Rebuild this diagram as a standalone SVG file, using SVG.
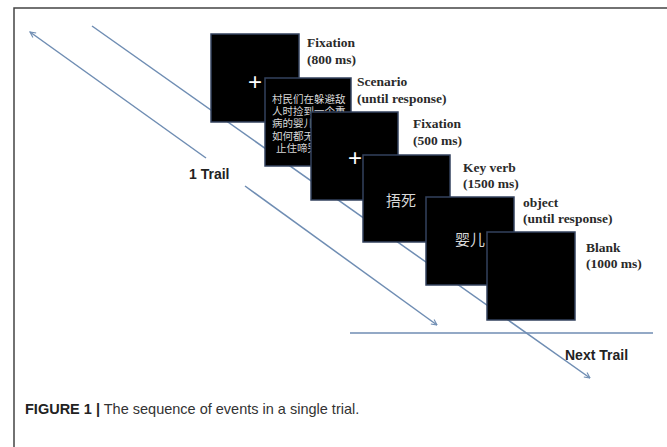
<svg xmlns="http://www.w3.org/2000/svg" width="667" height="447" viewBox="0 0 667 447">
<style>
.frame{fill:#000;stroke:#33425e;stroke-width:1.5}
.lbl{font-family:"Liberation Serif",serif;font-weight:bold;font-size:13.5px;fill:#2a2a2a}
.plus{font-family:"Liberation Sans",sans-serif;font-size:24px;fill:#fff;text-anchor:middle}
.cjk{font-family:"Liberation Serif","Noto Sans CJK SC",serif;fill:#d8d8d8}
.conn{stroke:#6f8db3;stroke-width:1.5;fill:none}
.trail{font-family:"Liberation Sans",sans-serif;font-weight:bold;font-size:14px;fill:#222}
</style>
<defs>
<marker id="arr" viewBox="0 0 10 10" refX="9" refY="5" markerWidth="7" markerHeight="7" orient="auto-start-reverse" markerUnits="userSpaceOnUse">
<path d="M1,1 L9,5 L1,9" fill="none" stroke="#6f8db3" stroke-width="1.6"/>
</marker>
</defs>
<rect width="667" height="447" fill="#fff"/>
<path d="M14,447 V8 H667" fill="none" stroke="#444" stroke-width="1.5"/>
<g id="connectors">
<line class="conn" x1="206" y1="158" x2="30" y2="32" marker-end="url(#arr)"/>
<line class="conn" x1="245" y1="186" x2="437" y2="325" marker-end="url(#arr)"/>
<line class="conn" x1="92" y1="26" x2="590" y2="378" marker-end="url(#arr)"/>
<line class="conn" x1="350" y1="333" x2="653" y2="333"/>
</g>
<g id="label-1trail"><text class="trail" x="189" y="179">1 Trail</text></g>
<g id="label-next"><text class="trail" x="565" y="360">Next Trail</text></g>
<g id="fixation1">
<rect class="frame" x="211" y="34" width="88" height="88"/>
<text class="plus" x="255" y="90">+</text>
<text class="lbl" x="307" y="47">Fixation</text>
<text class="lbl" x="307" y="64">(800 ms)</text>
</g>
<g id="scenario">
<rect class="frame" x="265" y="78" width="86" height="88"/>
<g class="cjk" font-size="10.5">
<text x="272" y="103">村民们在躲避敌</text>
<text x="272" y="115">人时捡到一个重</text>
<text x="272" y="127">病的婴儿，</text>
<text x="272" y="140">如何都无法</text>
<text x="276" y="152">止住啼哭</text>
</g>
<text class="lbl" x="357" y="86">Scenario</text>
<text class="lbl" x="357" y="103">(until response)</text>
</g>
<g id="fixation2">
<rect class="frame" x="311" y="112" width="87" height="88"/>
<text class="plus" x="355" y="166">+</text>
<text class="lbl" x="413" y="128">Fixation</text>
<text class="lbl" x="413" y="145">(500 ms)</text>
</g>
<g id="keyverb">
<rect class="frame" x="363" y="155" width="87" height="87"/>
<text class="cjk" x="401" y="206" font-size="15" text-anchor="middle">捂死</text>
<text class="lbl" x="463" y="172">Key verb</text>
<text class="lbl" x="463" y="188">(1500 ms)</text>
</g>
<g id="object">
<rect class="frame" x="426" y="197" width="88" height="88"/>
<text class="cjk" x="470" y="245" font-size="15" text-anchor="middle">婴儿</text>
<text class="lbl" x="523" y="207">object</text>
<text class="lbl" x="523" y="223">(until response)</text>
</g>
<g id="blank">
<rect class="frame" x="487" y="232" width="88" height="88"/>
<text class="lbl" x="586" y="252">Blank</text>
<text class="lbl" x="586" y="268">(1000 ms)</text>
</g>
<g id="caption">
<text x="25" y="414" font-family="'Liberation Sans',sans-serif" font-size="14.5" fill="#333"><tspan font-weight="bold" fill="#222">FIGURE 1 |</tspan> The sequence of events in a single trial.</text>
</g>
</svg>
